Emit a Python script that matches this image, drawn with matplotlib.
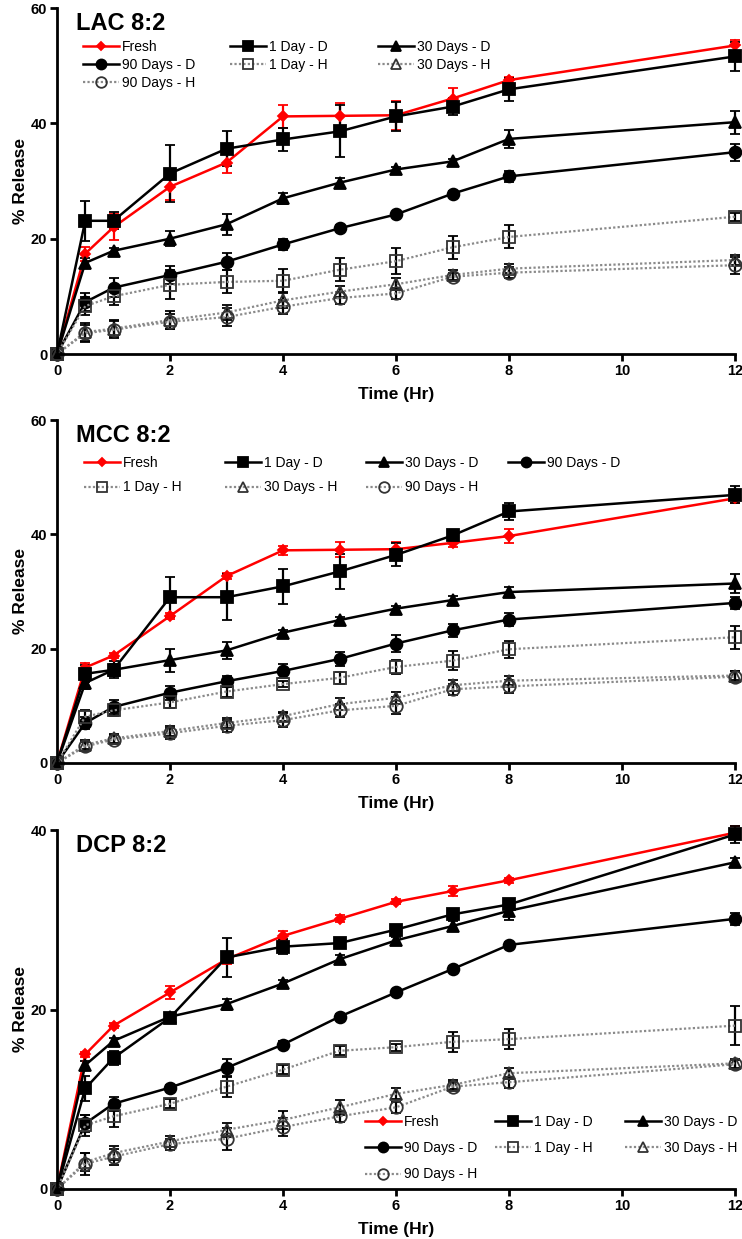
import matplotlib
matplotlib.use("Agg")
import matplotlib.pyplot as plt

plt.rcParams['font.family'] = ['Liberation Sans', 'DejaVu Sans']

# -----------------------------
# Data
# -----------------------------
time = [0, 0.5, 1, 2, 3, 4, 5, 6, 7, 8, 12]
labels = ["Fresh", "1 Day - D", "30 Days - D", "90 Days - D",
          "1 Day - H", "30 Days - H", "90 Days - H"]

# LAC 8:2  (one row per series, same order as labels)
lac_mean = [
    [0, 17.4, 22.0, 29.0, 33.2, 41.2, 41.3, 41.4, 44.3, 47.5, 53.5],
    [0, 23.1, 23.1, 31.3, 35.6, 37.2, 38.6, 41.2, 42.9, 45.9, 51.6],
    [0, 15.8, 17.9, 20.0, 22.5, 27.0, 29.7, 32.0, 33.4, 37.3, 40.2],
    [0, 9.0, 11.5, 13.7, 16.0, 19.0, 21.8, 24.2, 27.8, 30.8, 35.0],
    [0, 8.3, 10.0, 12.0, 12.5, 12.7, 14.6, 16.1, 18.5, 20.3, 23.8],
    [0, 3.8, 4.4, 5.9, 7.2, 9.3, 10.8, 12.1, 13.7, 14.8, 16.3],
    [0, 3.6, 4.2, 5.6, 6.4, 8.2, 9.7, 10.5, 13.4, 14.1, 15.4],
]
lac_sd = [
    [0, 1.2, 2.3, 2.3, 1.8, 2.0, 2.2, 2.5, 1.8, 0.5, 1.0],
    [0, 3.5, 1.5, 5.0, 3.0, 2.0, 4.5, 2.5, 1.5, 2.0, 2.5],
    [0, 0.8, 0.5, 1.3, 1.8, 1.0, 0.8, 0.5, 0.5, 1.5, 2.0],
    [0, 1.5, 1.7, 1.5, 1.5, 1.0, 0.5, 0.5, 0.5, 1.0, 1.5],
    [0, 1.5, 1.5, 2.5, 2.0, 2.0, 2.0, 2.3, 2.0, 2.0, 0.7],
    [0, 1.5, 1.5, 1.5, 1.3, 1.3, 1.0, 1.0, 0.8, 0.8, 0.8],
    [0, 1.5, 1.5, 1.3, 1.5, 1.2, 1.0, 1.0, 0.7, 1.0, 1.5],
]

# MCC 8:2
mcc_mean = [
    [0, 16.7, 18.8, 25.7, 32.7, 37.2, 37.3, 37.4, 38.5, 39.7, 46.3],
    [0, 15.6, 16.3, 29.0, 29.0, 30.9, 33.5, 36.4, 39.8, 44.0, 46.9],
    [0, 14.0, 16.3, 18.0, 19.7, 22.8, 25.0, 27.0, 28.5, 29.9, 31.4],
    [0, 7.0, 9.8, 12.3, 14.3, 16.1, 18.2, 20.9, 23.2, 25.1, 28.0],
    [0, 8.1, 9.2, 10.6, 12.5, 13.8, 14.9, 16.8, 17.9, 19.9, 22.0],
    [0, 3.2, 4.3, 5.6, 7.0, 8.2, 10.3, 11.4, 13.6, 14.4, 15.3],
    [0, 2.9, 4.1, 5.2, 6.5, 7.5, 9.2, 10.0, 12.9, 13.4, 15.1],
]
mcc_sd = [
    [0, 0.8, 0.5, 0.5, 0.5, 0.8, 1.3, 1.3, 0.8, 1.2, 0.8],
    [0, 1.5, 1.5, 3.5, 4.0, 3.0, 3.0, 2.0, 0.5, 1.5, 1.5],
    [0, 1.0, 1.0, 2.0, 1.5, 0.5, 0.5, 0.5, 0.8, 0.8, 1.7],
    [0, 1.0, 1.3, 1.2, 1.0, 1.2, 1.2, 1.5, 1.2, 1.2, 1.0],
    [0, 1.2, 1.0, 1.0, 1.0, 0.5, 1.0, 1.3, 1.7, 1.5, 2.0],
    [0, 0.8, 0.8, 0.8, 0.8, 0.8, 1.0, 1.0, 1.0, 0.8, 0.8],
    [0, 0.8, 0.8, 1.0, 1.0, 1.2, 1.2, 1.5, 1.0, 1.2, 1.0],
]

# DCP 8:2
dcp_mean = [
    [0, 15.0, 18.2, 21.9, 25.6, 28.2, 30.1, 32.0, 33.2, 34.4, 39.7],
    [0, 11.2, 14.6, 19.1, 25.8, 27.0, 27.4, 28.9, 30.6, 31.7, 39.5],
    [0, 13.8, 16.5, 19.2, 20.6, 22.9, 25.6, 27.7, 29.3, 31.0, 36.4],
    [0, 7.3, 9.5, 11.3, 13.5, 16.1, 19.2, 21.9, 24.5, 27.2, 30.1],
    [0, 7.1, 8.1, 9.5, 11.4, 13.3, 15.4, 15.8, 16.4, 16.7, 18.2],
    [0, 3.0, 4.0, 5.3, 6.6, 7.7, 9.1, 10.6, 11.6, 12.9, 14.0],
    [0, 2.8, 3.6, 5.0, 5.6, 6.9, 8.1, 9.1, 11.4, 11.9, 13.9],
]
dcp_sd = [
    [0, 0.3, 0.3, 0.7, 0.5, 0.5, 0.4, 0.3, 0.6, 0.3, 0.7],
    [0, 1.4, 0.8, 0.3, 2.2, 0.8, 0.5, 0.5, 0.4, 0.5, 1.0],
    [0, 0.5, 0.3, 0.3, 0.6, 0.4, 0.5, 0.4, 0.6, 1.0, 0.5],
    [0, 1.0, 0.8, 0.3, 1.0, 0.4, 0.3, 0.3, 0.3, 0.3, 0.7],
    [0, 1.2, 1.2, 0.5, 1.2, 0.5, 0.5, 0.4, 1.1, 1.1, 2.2],
    [0, 1.0, 0.8, 0.6, 0.8, 1.0, 0.8, 0.6, 0.5, 0.6, 0.5],
    [0, 1.2, 0.9, 0.6, 1.2, 1.0, 0.6, 0.6, 0.5, 0.6, 0.5],
]

# -----------------------------
# Series styles
# -----------------------------
grey = "#8a8a8a"
styles = [
    dict(color="red", marker="D", ms=5, ls="-", lw=1.8, mfc="red", mec="red", ecolor="red"),
    dict(color="black", marker="s", ms=9, ls="-", lw=1.8, mfc="black", mec="black", ecolor="black"),
    dict(color="black", marker="^", ms=9, ls="-", lw=1.8, mfc="black", mec="black", ecolor="black"),
    dict(color="black", marker="o", ms=8.5, ls="-", lw=1.8, mfc="black", mec="black", ecolor="black"),
    dict(color=grey, marker="s", ms=9, ls=(0, (1, 1)), lw=1.6, mfc="none", mec="#333333", ecolor="black"),
    dict(color=grey, marker="^", ms=9, ls=(0, (1, 1)), lw=1.6, mfc="none", mec="#333333", ecolor="black"),
    dict(color=grey, marker="o", ms=9, ls=(0, (1, 1)), lw=1.6, mfc="none", mec="#333333", ecolor="black"),
]

W, H = 742, 1239
fig = plt.figure(figsize=(W / 100, H / 100), dpi=100)

# panel boxes in pixels: (top of y axis, y=0 line)
panels = [
    dict(name="LAC 8:2", mean=lac_mean, sd=lac_sd, top=8, bottom=354, ymax=60, yticks=[0, 20, 40, 60],
         ncol=3, col_x=[83, 230, 378], row_y=48, spacing=0.28),
    dict(name="MCC 8:2", mean=mcc_mean, sd=mcc_sd, top=420, bottom=763, ymax=60, yticks=[0, 20, 40, 60],
         ncol=4, col_x=[84, 225, 366, 508], row_y=464, spacing=0.75),
    dict(name="DCP 8:2", mean=dcp_mean, sd=dcp_sd, top=830, bottom=1189, ymax=40, yticks=[0, 20, 40],
         ncol=3, col_x=[365, 495, 625], row_y=1123, spacing=0.88),
]

x0, x1 = 57, 735

for p in panels:
    ax = fig.add_axes([x0 / W, 1 - p["bottom"] / H, (x1 - x0) / W, (p["bottom"] - p["top"]) / H])

    handles = []
    for m, s, st in zip(p["mean"], p["sd"], styles):
        cont = ax.errorbar(time, m, yerr=s, color=st["color"], marker=st["marker"], ms=st["ms"],
                           ls=st["ls"], lw=st["lw"], mfc=st["mfc"], mec=st["mec"], mew=1.3,
                           ecolor=st["ecolor"], elinewidth=1.6, capsize=3.5, capthick=1.6,
                           clip_on=False)
        for a in cont.get_children():
            a.set_clip_on(False)
        handles.append(cont.lines[0])

    ax.set_xlim(0, 12)
    ax.set_ylim(0, p["ymax"])
    ax.set_xticks(range(0, 13, 2))
    ax.set_yticks(p["yticks"])
    for sp in ["top", "right"]:
        ax.spines[sp].set_visible(False)
    for sp in ["left", "bottom"]:
        ax.spines[sp].set_linewidth(2)
    ax.tick_params(width=2, length=5, labelsize=10.5, pad=2)
    for lbl in ax.get_xticklabels() + ax.get_yticklabels():
        lbl.set_fontweight("bold")

    ax.set_xlabel("Time (Hr)", fontsize=12.5, fontweight="bold", labelpad=7)
    ax.set_ylabel("% Release", fontsize=12.5, fontweight="bold", labelpad=2)

    ax.text(0.028, 1 - 15 / (p["bottom"] - p["top"]), p["name"], transform=ax.transAxes,
            fontsize=17, fontweight="bold", va="center", ha="left")

    # legend laid out row-wise, one legend per column
    n = p["ncol"]
    for c in range(n):
        idx = list(range(c, len(labels), n))
        fig.legend([handles[i] for i in idx], [labels[i] for i in idx],
                   loc="upper left", bbox_to_anchor=(p["col_x"][c] / W, 1 - (p["row_y"] - 8) / H),
                   frameon=False, borderpad=0, borderaxespad=0, handlelength=2.6,
                   handletextpad=0.2, labelspacing=p["spacing"], fontsize=10, markerscale=0.85)

fig.savefig("out.png", dpi=100)
